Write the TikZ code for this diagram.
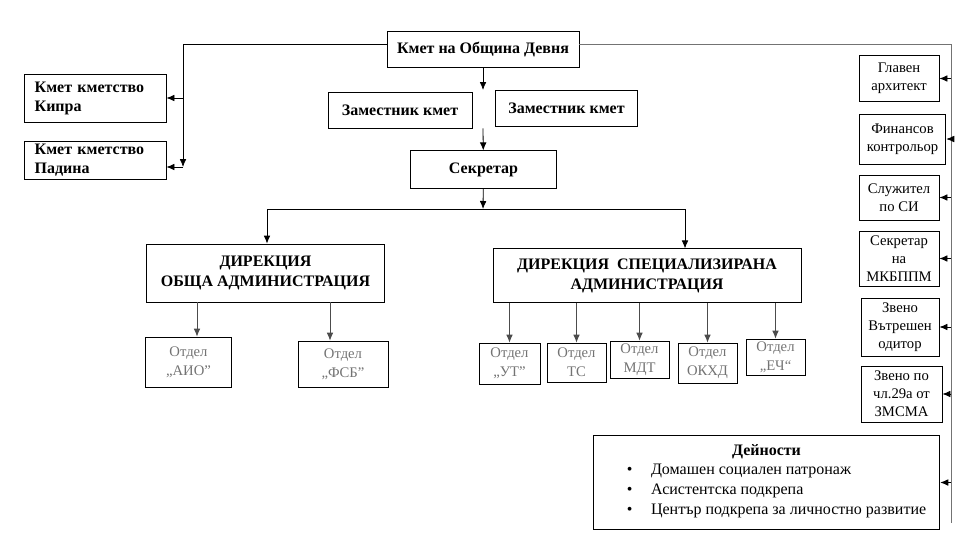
\documentclass[tikz,border=0pt]{standalone}
\usepackage{fontspec}
\setmainfont{Liberation Serif}
\usetikzlibrary{arrows.meta, calc}

\begin{document}
\begin{tikzpicture}[x=0.75pt, y=-0.75pt, line width=0.6pt,
    box/.style={draw, inner sep=2pt, align=center, font=\fontsize{12}{15}\selectfont\bfseries},
    village/.style={draw, inner xsep=8pt, inner ysep=1pt, text width=90.5pt, align=left,
      minimum height=#1, font=\fontsize{12}{14.25}\selectfont\bfseries},
    unit/.style={draw, inner sep=1pt, align=center, font=\fontsize{11}{13.5}\selectfont},
    dept/.style={draw, inner sep=1pt, align=center, text=black!55, font=\fontsize{11}{14}\selectfont},
    arr/.style={-{Latex[length=6pt,width=5pt]}},
    railc/.style={draw=black!55}]
  \useasboundingbox (0,0) rectangle (973,544);
  % Mayor and deputies
  \node[box, minimum width=144pt, minimum height=27pt] (mayor) at (483,49.5) {Кмет на Община Девня};
  \node[box, minimum width=108pt, minimum height=27pt] (zam1) at (400,110) {Заместник кмет};
  \node[box, minimum width=107pt, minimum height=27pt] (zam2) at (566.5,108) {Заместник кмет};
  \node[box, minimum width=109pt, minimum height=28pt] (sec) at (483.5,169.5) {Секретар};
  % Villages
  \node[village=36pt] (kipra) at (95,98) {Кмет кметство\\Кипра};
  \node[village=28.5pt] (padina) at (95,160) {Кмет кметство\\Падина};
  % Directorates
  \node[box, minimum width=178pt, minimum height=43.5pt] (dirobsh) at (265.5,273) {ДИРЕКЦИЯ\\ОБЩА АДМИНИСТРАЦИЯ};
  \node[box, minimum width=231pt, minimum height=40pt] (dirspec) at (647,275.5) {ДИРЕКЦИЯ\ \ СПЕЦИАЛИЗИРАНА\\АДМИНИСТРАЦИЯ};
  % Departments
  \node[dept, minimum width=65pt, minimum height=37.5pt] (aio) at (188.5,362) {Отдел\\„АИО”};
  \node[dept, minimum width=67.5pt, minimum height=34.5pt] (fsb) at (343,364) {Отдел\\„ФСБ”};
  \node[dept, minimum width=45.75pt, minimum height=30.75pt] (ut) at (509.5,363.5) {Отдел\\„УТ”};
  \node[dept, minimum width=44.25pt, minimum height=29.25pt] (ts) at (576.5,362.5) {Отдел\\ТС};
  \node[dept, minimum width=44.25pt, minimum height=27.75pt] (mdt) at (639.5,359.5) {Отдел\\МДТ};
  \node[dept, minimum width=44.25pt, minimum height=30pt] (okhd) at (707.5,363) {Отдел\\ОКХД};
  \node[dept, minimum width=44.25pt, minimum height=27pt] (ech) at (775.5,357) {Отдел\\„ЕЧ“};
  % Right column
  \node[unit, minimum width=60pt, minimum height=35pt] (arch) at (899,78.5) {Главен\\архитект};
  \node[unit, minimum width=65pt, minimum height=37.5pt] (fin) at (902.5,139) {Финансов\\контрольор};
  \node[unit, minimum width=60pt, minimum height=33.75pt] (si) at (899,197.5) {Служител\\по СИ};
  \node[unit, minimum width=60pt, minimum height=41.25pt] (mkb) at (899,258.5) {Секретар\\на\\МКБППМ};
  \node[unit, minimum width=58.5pt, minimum height=43.5pt] (odit) at (900,327) {Звено\\Вътрешен\\одитор};
  \node[unit, minimum width=60.75pt, minimum height=42pt] (zmsma) at (901.5,394) {Звено по\\чл.29а от\\ЗМСМА};
  % Activities
  \node[draw, minimum width=260pt, minimum height=71pt, align=center, font=\fontsize{12}{15}\selectfont] (dein) at (766.5,482.5)
    {\textbf{Дейности}\\\hspace*{15pt}\begin{tabular}{@{}l@{\hspace{14pt}}l@{}}
      • & Домашен социален патронаж\\
      • & Асистентска подкрепа\\
      • & Център подкрепа за личностно развитие
    \end{tabular}};
  % Connectors
  \coordinate (gap) at (483,90);
  \coordinate (bus) at (483,209);
  \coordinate (busL) at (267,209);
  \coordinate (busR) at (685,209);
  \coordinate (lrail) at (183,167);
  \coordinate (rail) at (951,523);
  \coordinate (aioin) at ($(aio.north)+(8.5,0)$);
  \coordinate (fsbin) at ($(fsb.north)+(-13,0)$);
  \draw[arr] (mayor) -- (gap);
  \draw[arr] (gap |- zam1.south) -- (sec);
  \draw[arr] (sec) -- (bus);
  \draw (busL) -- (busR);
  \draw[arr] (busL) -- (busL |- dirobsh.north);
  \draw[arr] (busR) -- (busR |- dirspec.north);
  \draw[arr] ([yshift=4pt]mayor.west) -| (lrail);
  \draw[arr] (lrail |- kipra.east) -- (kipra.east);
  \draw[arr] (lrail) -- (lrail -| padina.east);
  \draw[railc] ([yshift=4pt]mayor.east) -| (rail);
  \foreach \b in {arch,fin,si,mkb,odit,zmsma,dein}
    \draw[arr] (rail |- \b.east) -- (\b.east);
  \draw[arr, black!70] (dirobsh.south -| aioin) -- (aioin);
  \draw[arr, black!70] (dirobsh.south -| fsbin) -- (fsbin);
  \foreach \d in {ut,ts,mdt,okhd,ech}
    \draw[arr, black!70] (dirspec.south -| \d.north) -- (\d.north);
\end{tikzpicture}
\end{document}
